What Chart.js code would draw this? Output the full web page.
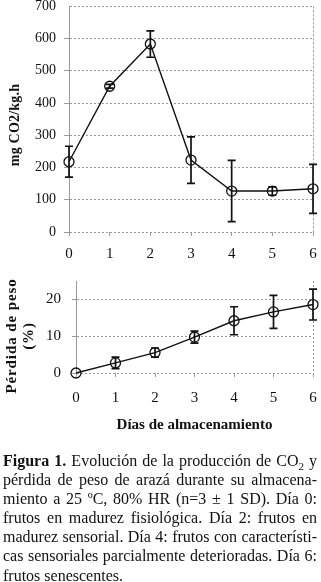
<!DOCTYPE html>
<html>
<head>
<meta charset="utf-8">
<script src="https://cdn.jsdelivr.net/npm/chart.js@4.4.0/dist/chart.umd.min.js"></script>
<style>
  body { margin: 0; background: #fff; width: 321px; height: 582px; position: relative; overflow: hidden; }
  #co2Box { position: absolute; left: 0; top: 0; width: 321px; height: 268px; }
  #pesoBox { position: absolute; left: 0; top: 262px; width: 321px; height: 175px; }
  .ytitle { position: absolute; transform: translate(-50%, -50%) rotate(-90deg);
    font-family: "Liberation Serif", "Times New Roman", serif; font-weight: bold; color: #111;
    white-space: nowrap; text-align: center; }
  #co2Title { left: 15px; top: 125px; font-size: 14px; line-height: 16px; letter-spacing: 0.2px; }
  #pesoTitle { left: 20px; top: 336px; font-size: 15px; line-height: 17px; letter-spacing: 0.9px; }
  #caption { position: absolute; left: 3px; top: 451px; width: 314px;
    font-family: "Liberation Serif", "Times New Roman", serif; font-size: 16px; line-height: 19.1px; color: #111; }
  #caption div { text-align: justify; text-align-last: justify; white-space: nowrap; }
  #caption div.last { text-align-last: left; }
</style>
</head>
<body>
<div id="co2Box"><canvas id="co2"></canvas></div>
<div id="pesoBox"><canvas id="peso"></canvas></div>
<div class="ytitle" id="co2Title">mg CO2/kg.h</div>
<div class="ytitle" id="pesoTitle">Pérdida de peso<br>(%)</div>
<div id="caption">
  <div><b>Figura 1.</b> Evolución de la producción de CO<sub style="font-size:11px;line-height:0">2</sub> y</div>
  <div>pérdida de peso de arazá durante su almacena-</div>
  <div>miento a 25 ºC, 80% HR (n=3 ± 1 SD). Día 0:</div>
  <div>frutos en madurez fisiológica. Día 2: frutos en</div>
  <div>madurez sensorial. Día 4: frutos con característi-</div>
  <div>cas sensoriales parcialmente deterioradas. Día 6:</div>
  <div class="last">frutos senescentes.</div>
</div>
<script>
const dias = [0, 1, 2, 3, 4, 5, 6];
const co2 = [218, 452, 583, 223, 127, 127, 134];
const co2Sd = [48, 6, 41, 72, 95, 13, 76];
const peso = [0, 2.75, 5.55, 9.75, 14.2, 16.6, 18.6];
const pesoSd = [0, 1.55, 1.25, 1.65, 3.8, 4.5, 4.2];

const serif = "'Liberation Serif', 'Times New Roman', serif";
const grey = '#9a9a9a';
const ink = '#111';

// error bars, drawn with the chart scales
const errorBars = {
  id: 'errorBars',
  afterDatasetsDraw(chart) {
    const ctx = chart.ctx;
    const xs = chart.scales.x;
    const ys = chart.scales.y;
    chart.data.datasets.forEach(ds => {
      if (!ds.sd) return;
      ctx.save();
      ctx.strokeStyle = ink;
      ctx.lineWidth = 1.7;
      ds.data.forEach((p, i) => {
        if (!ds.sd[i]) return;
        const x = xs.getPixelForValue(p.x);
        const y1 = ys.getPixelForValue(p.y - ds.sd[i]);
        const y2 = ys.getPixelForValue(p.y + ds.sd[i]);
        ctx.beginPath();
        ctx.moveTo(x, y1); ctx.lineTo(x, y2);
        ctx.moveTo(x - 4, y1); ctx.lineTo(x + 4, y1);
        ctx.moveTo(x - 4, y2); ctx.lineTo(x + 4, y2);
        ctx.stroke();
      });
      ctx.restore();
    });
  }
};

const toPoints = (vals) => dias.map((d, i) => ({ x: d, y: vals[i] }));

const lineDataset = (vals, sd) => ({
  data: toPoints(vals),
  sd: sd,
  borderColor: ink,
  borderWidth: 1.4,
  pointStyle: 'circle',
  pointRadius: 5,
  pointBorderWidth: 1.3,
  pointBorderColor: ink,
  pointBackgroundColor: 'rgba(0,0,0,0)',
  tension: 0,
  clip: false,
});

new Chart(document.getElementById('co2'), {
  type: 'line',
  data: { datasets: [lineDataset(co2, co2Sd)] },
  plugins: [errorBars],
  options: {
    responsive: true,
    maintainAspectRatio: false,
    animation: false,
    layout: { padding: { top: 6, right: 8, left: 0, bottom: 0 } },
    plugins: { legend: { display: false }, tooltip: { enabled: false } },
    scales: {
      x: {
        type: 'linear', min: 0, max: 6,
        ticks: { stepSize: 1, padding: 9, color: ink, font: { family: serif, size: 15 } },
        grid: {
          color: c => (c.tick && c.tick.value === 6) ? grey : 'rgba(0,0,0,0)',
          tickColor: grey, tickLength: 4,
        },
        border: { display: false, dash: [2, 2] },
        afterFit: s => { s.height = 36; s.paddingLeft = 0; s.paddingRight = 0; },
      },
      y: {
        min: 0, max: 700,
        ticks: { stepSize: 100, padding: 8, color: ink, font: { family: serif, size: 14 } },
        grid: {
          color: grey,
          tickColor: c => (c.tick && c.tick.value === 700) ? 'rgba(0,0,0,0)' : grey,
          tickLength: 5,
        },
        border: { display: true, color: grey, width: 1, dash: [2, 2] },
        afterFit: s => { s.width = 69; s.paddingTop = 0; s.paddingBottom = 0; },
      },
    },
  },
});

new Chart(document.getElementById('peso'), {
  type: 'line',
  data: { datasets: [lineDataset(peso, pesoSd)] },
  plugins: [errorBars],
  options: {
    responsive: true,
    maintainAspectRatio: false,
    animation: false,
    layout: { padding: { top: 19, right: 8, left: 0, bottom: 0 } },
    plugins: { legend: { display: false }, tooltip: { enabled: false } },
    scales: {
      x: {
        type: 'linear', min: 0, max: 6,
        ticks: { stepSize: 1, padding: 12, color: ink, font: { family: serif, size: 15 } },
        grid: {
          color: c => (c.tick && c.tick.value === 6) ? grey : 'rgba(0,0,0,0)',
          tickColor: grey, tickLength: 4,
        },
        border: { display: false, dash: [2, 2] },
        title: {
          display: true, text: 'Días de almacenamiento', color: ink,
          font: { family: serif, size: 15, weight: 'bold' },
          padding: { top: 0, bottom: 3 },
        },
        afterFit: s => { s.height = 64; s.paddingLeft = 0; s.paddingRight = 0; },
      },
      y: {
        min: 0, max: 25,
        ticks: {
          stepSize: 5, padding: 11, color: ink, font: { family: serif, size: 15 },
          callback: v => (v % 10 === 0 ? v : ''),
        },
        grid: {
          color: c => (c.tick && (c.tick.value === 5 || c.tick.value === 15)) ? 'rgba(0,0,0,0)' : grey,
          tickColor: c => (c.tick && c.tick.value === 25) ? 'rgba(0,0,0,0)' : grey,
          tickLength: 4,
        },
        border: { display: true, color: grey, width: 1, dash: [2, 2] },
        afterFit: s => { s.width = 76; s.paddingTop = 0; s.paddingBottom = 0; },
      },
    },
  },
});
</script>
</body>
</html>
